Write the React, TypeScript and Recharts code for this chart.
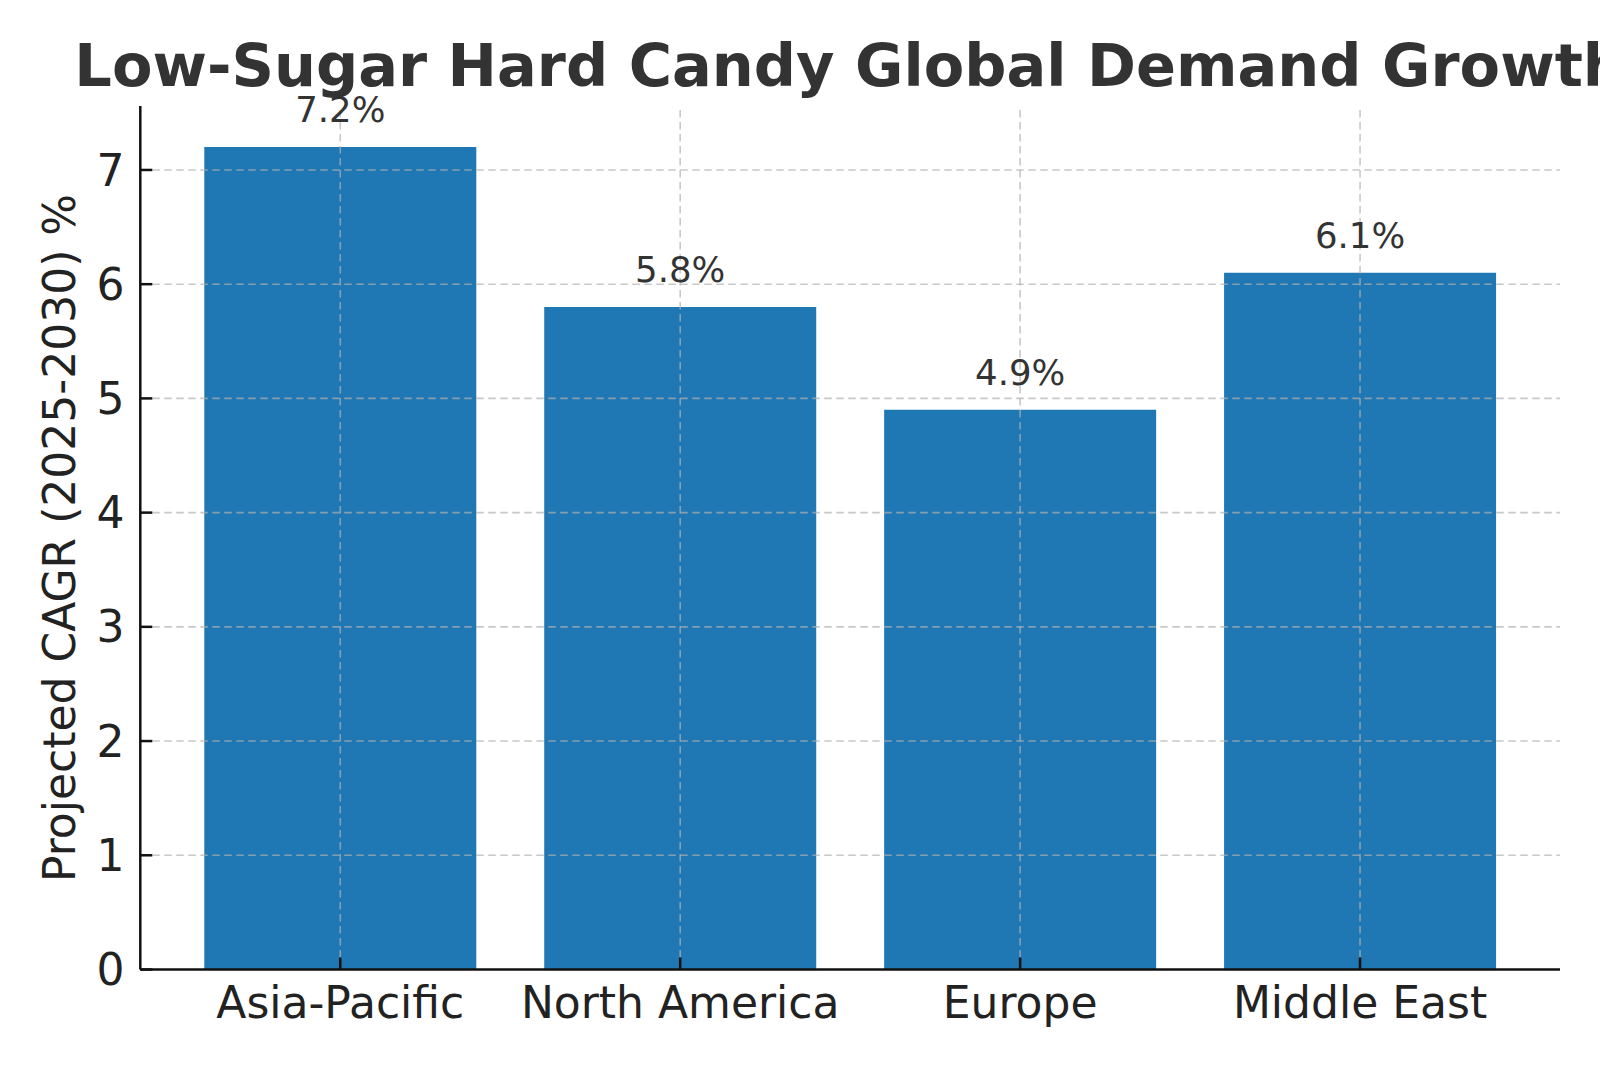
import { BarChart, Bar, XAxis, YAxis, ReferenceLine, LabelList } from 'recharts'

const regions = ['Asia-Pacific', 'North America', 'Europe', 'Middle East']
const cagr = [7.2, 5.8, 4.9, 6.1]
const yTicks = [0, 1, 2, 3, 4, 5, 6, 7]

const TITLE = 'Low-Sugar Hard Candy Global Demand Growth'
const Y_LABEL = 'Projected CAGR (2025-2030) %'

const FONT = '"DejaVu Sans", sans-serif'
const BAR_COLOR = '#1f77b4'

const data = regions.map((region, i) => ({ region, value: cagr[i] }))

// dashed grid, drawn over the bars
const gridStyle = {
  stroke: '#b0b0b0',
  strokeOpacity: 0.7,
  strokeWidth: 1.6,
  strokeDasharray: '7.5 4.5',
}

function BarValue(props: any) {
  const { x, y, width, value } = props
  return (
    <text
      x={x + width / 2}
      y={y - 25}
      textAnchor="middle"
      fontSize={35.5}
      fontFamily={FONT}
      fill="#333"
    >
      {`${value}%`}
    </text>
  )
}

export default function App() {
  return (
    <div style={{ position: 'absolute', left: 0, top: 0, width: 1600, height: 1067, background: '#fff' }}>
      <BarChart
        width={1600}
        height={1067}
        data={data}
        margin={{ top: 106, right: 40, bottom: 0, left: 0 }}
        style={{ fontFamily: FONT }}
      >
        <XAxis
          dataKey="region"
          height={97.5}
          padding={{ left: 30, right: 30 }}
          tickSize={-12}
          tickMargin={29.5}
          axisLine={{ stroke: '#111', strokeWidth: 2.5 }}
          tickLine={{ stroke: '#111', strokeWidth: 2.5 }}
          tick={{ fontSize: 44, fill: '#222', fontFamily: FONT }}
          interval={0}
        />
        <YAxis
          width={140.3}
          domain={[0, 7.56]}
          ticks={yTicks}
          tickSize={-12}
          tickMargin={27.8}
          axisLine={{ stroke: '#111', strokeWidth: 2.5 }}
          tickLine={{ stroke: '#111', strokeWidth: 2.5 }}
          tick={{ fontSize: 44, fill: '#222', fontFamily: FONT }}
        />
        <Bar dataKey="value" fill={BAR_COLOR} barSize={272} isAnimationActive={false}>
          <LabelList dataKey="value" content={BarValue} />
        </Bar>
        {yTicks.filter((t) => t > 0).map((t) => (
          <ReferenceLine key={`h${t}`} y={t} {...gridStyle} zIndex={400} />
        ))}
        {regions.map((r) => (
          <ReferenceLine key={`v${r}`} x={r} {...gridStyle} zIndex={400} />
        ))}
      </BarChart>
      <svg
        width={1600}
        height={1067}
        style={{ position: 'absolute', left: 0, top: 0, pointerEvents: 'none' }}
      >
        <text
          x={849.6}
          y={86}
          textAnchor="middle"
          fontSize={59}
          fontWeight="bold"
          fontFamily={FONT}
          fill="#333"
        >
          {TITLE}
        </text>
        <text
          x={0}
          y={0}
          transform="translate(75 538) rotate(-90)"
          textAnchor="middle"
          fontSize={44}
          fontFamily={FONT}
          fill="#222"
        >
          {Y_LABEL}
        </text>
      </svg>
    </div>
  )
}
